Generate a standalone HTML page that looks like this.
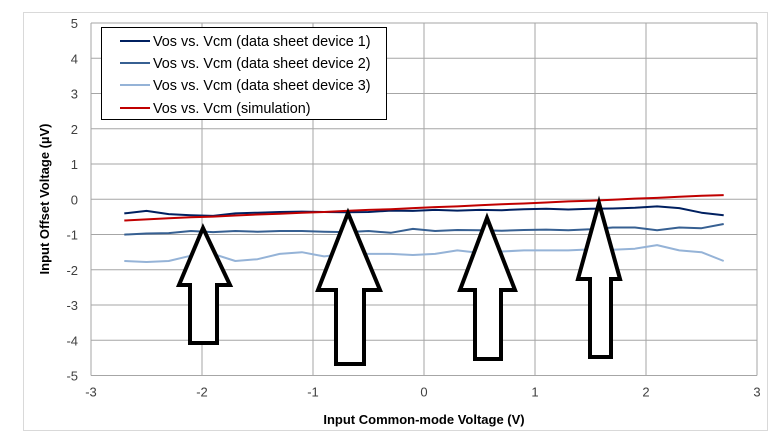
<!DOCTYPE html>
<html><head><meta charset="utf-8"><style>
body{margin:0;background:#fff;}
svg{display:block;font-family:"Liberation Sans",Arial,sans-serif;}
</style></head><body>
<svg id="chart" width="771" height="443">
<rect x="23.5" y="12.5" width="744" height="418" fill="#fff" stroke="#d9d9d9"/>
<g id="grid"></g>
<g id="ticks"></g>
<g id="series"></g>
<g fill="#fff" stroke="#000" stroke-width="4" stroke-linejoin="miter">
<path d="M203,228 L230,285 L217,285 L217,343 L190,343 L190,285 L179,285 Z"/>
<path d="M348,213 L380,290 L364,290 L364,364 L336,364 L336,290 L318,290 Z"/>
<path d="M487,218 L515,290 L501,290 L501,359 L475,359 L475,290 L460,290 Z"/>
<path d="M599,203 L620,279 L611,279 L611,357 L590,357 L590,279 L578,279 Z"/>
</g>
<g>
<rect x="101.5" y="27.5" width="285" height="92" fill="#fff" stroke="#000"/>
<g><line x1="120" y1="41" x2="150" y2="41" stroke="#002060" stroke-width="2"/><text x="153" y="46" font-size="14.4">Vos vs. Vcm (data sheet device 1)</text></g>
<g><line x1="120" y1="63" x2="150" y2="63" stroke="#376092" stroke-width="2"/><text x="153" y="68" font-size="14.4">Vos vs. Vcm (data sheet device 2)</text></g>
<g><line x1="120" y1="85" x2="150" y2="85" stroke="#95b3d7" stroke-width="2"/><text x="153" y="90" font-size="14.4">Vos vs. Vcm (data sheet device 3)</text></g>
<g><line x1="120" y1="108" x2="150" y2="108" stroke="#c00000" stroke-width="2"/><text x="153" y="113" font-size="14.4">Vos vs. Vcm (simulation)</text></g>
</g>
<text x="424" y="424" font-size="13" font-weight="bold" text-anchor="middle">Input Common-mode Voltage (V)</text>
<text transform="translate(49,199) rotate(-90)" font-size="13" font-weight="bold" text-anchor="middle">Input Offset Voltage (µV)</text>
</svg>
<script>
const xs = [-2.7,-2.5,-2.3,-2.1,-1.9,-1.7,-1.5,-1.3,-1.1,-0.9,-0.7,-0.5,-0.3,-0.1,0.1,0.3,0.5,0.7,0.9,1.1,1.3,1.5,1.7,1.9,2.1,2.3,2.5,2.7];
const dev1 = [-0.4,-0.33,-0.42,-0.45,-0.47,-0.4,-0.38,-0.36,-0.35,-0.36,-0.37,-0.36,-0.32,-0.33,-0.3,-0.32,-0.3,-0.31,-0.28,-0.27,-0.29,-0.27,-0.26,-0.24,-0.2,-0.25,-0.38,-0.45];
const dev2 = [-1.0,-0.97,-0.96,-0.9,-0.93,-0.9,-0.92,-0.9,-0.9,-0.92,-0.93,-0.9,-0.95,-0.84,-0.9,-0.87,-0.88,-0.89,-0.87,-0.86,-0.88,-0.85,-0.8,-0.8,-0.88,-0.8,-0.82,-0.7];
const dev3 = [-1.75,-1.78,-1.75,-1.6,-1.55,-1.75,-1.7,-1.55,-1.5,-1.62,-1.55,-1.55,-1.55,-1.58,-1.55,-1.45,-1.52,-1.48,-1.45,-1.45,-1.45,-1.42,-1.43,-1.4,-1.3,-1.45,-1.5,-1.75];
const sim = [-0.6,-0.57,-0.54,-0.51,-0.49,-0.46,-0.43,-0.41,-0.38,-0.36,-0.33,-0.3,-0.28,-0.25,-0.22,-0.2,-0.17,-0.14,-0.12,-0.09,-0.06,-0.04,-0.01,0.02,0.04,0.07,0.1,0.12];
const xTicks = [-3,-2,-1,0,1,2,3];
const yTicks = [5,4,3,2,1,0,-1,-2,-3,-4,-5];
const NS="http://www.w3.org/2000/svg";
function X(v){return 424+v*111;}
function Y(v){return 199.3-v*35.25;}
const grid=document.getElementById('grid'),ticks=document.getElementById('ticks'),ser=document.getElementById('series');
function mk(t,a,p){const e=document.createElementNS(NS,t);for(const k in a)e.setAttribute(k,a[k]);p.appendChild(e);return e;}
xTicks.forEach(v=>{
  const l=mk('line',{x1:X(v),x2:X(v),y1:Y(5),y2:Y(-5),stroke:'#a6a6a6','stroke-width':1},grid);
  
  
  const t=mk('text',{x:X(v),y:Y(-5)+21,'font-size':13,'text-anchor':'middle',fill:'#404040'},ticks);
  t.textContent=v;
  
  
});
yTicks.forEach(v=>{
  const l=mk('line',{x1:X(-3),x2:X(3),y1:Y(v),y2:Y(v),stroke:'#a6a6a6','stroke-width':1},grid);
  
  
  const t=mk('text',{x:78,y:Y(v)+5,'font-size':13,'text-anchor':'end',fill:'#404040'},ticks);
  t.textContent=v;
  
  
});
function line(vals,color,name){
  const d=vals.map((v,i)=>(i?'L':'M')+X(xs[i]).toFixed(1)+','+Y(v).toFixed(1)).join(' ');
  const p=mk('path',{d:d,fill:'none',stroke:color,'stroke-width':2,'stroke-linejoin':'round'},ser);
  
  
}
line(dev3,'#95b3d7','series-device-3');
line(dev2,'#376092','series-device-2');
line(dev1,'#002060','series-device-1');
line(sim,'#c00000','series-simulation');
</script>
</body></html>
